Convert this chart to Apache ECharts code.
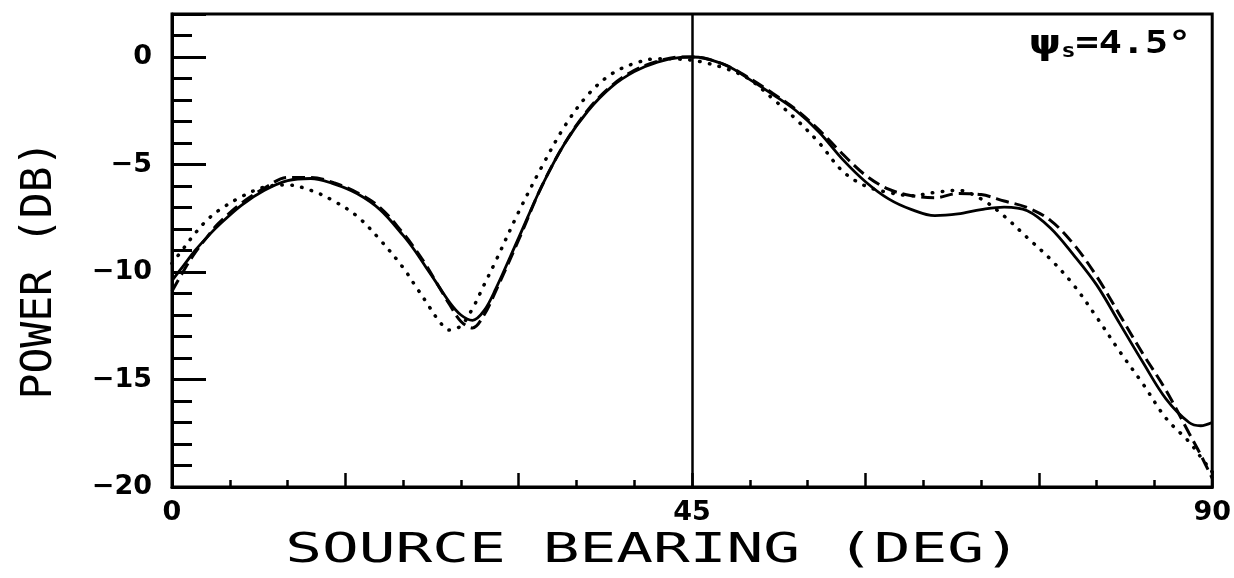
<!DOCTYPE html>
<html>
<head>
<meta charset="utf-8">
<script src="https://cdn.jsdelivr.net/npm/echarts@6/dist/echarts.min.js"></script>
<style>
  html, body { margin: 0; padding: 0; background: #fff; }
  #chart { width: 1234px; height: 578px; }
</style>
</head>
<body>
<div id="chart"></div>
<script>
// Source bearing (deg) shared by the three power curves
const bearing = [0,1,2,3,4,6,8,10,12,14,16,18,20,21,22,23,24,25,26,27,28,30,32,34,36,38,40,42,44,45,46,48,50,52,54,56,58,60,62,64,66,68,70,72,74,76,78,80,82,84,86,88,89,90];

// Beam power (dB), solid curve
const powerSolid = [-10.4,-9.7,-9.0,-8.4,-7.85,-6.9,-6.2,-5.75,-5.65,-5.9,-6.35,-7.1,-8.3,-9.0,-9.8,-10.6,-11.4,-12.0,-12.25,-11.8,-10.8,-8.4,-6.0,-4.0,-2.5,-1.4,-0.68,-0.24,-0.02,0,-0.05,-0.4,-1.05,-1.75,-2.5,-3.5,-4.75,-5.8,-6.6,-7.1,-7.38,-7.3,-7.1,-6.98,-7.15,-7.95,-9.2,-10.6,-12.4,-14.2,-15.9,-17.0,-17.15,-17.0];

// Beam power (dB), dashed curve
const powerDashed = [-10.9,-9.95,-9.1,-8.4,-7.75,-6.8,-6.1,-5.6,-5.6,-5.85,-6.3,-7.0,-8.2,-8.9,-9.7,-10.6,-11.5,-12.3,-12.6,-12.0,-10.9,-8.5,-6.0,-4.0,-2.45,-1.35,-0.62,-0.2,0,0,-0.05,-0.4,-1.0,-1.7,-2.45,-3.4,-4.5,-5.5,-6.15,-6.45,-6.55,-6.35,-6.4,-6.7,-7.0,-7.6,-8.7,-10.2,-12.0,-13.8,-15.5,-17.5,-18.5,-19.6];

// Beam power (dB), dotted curve
const powerDotted = [-9.6,-8.9,-8.2,-7.6,-7.15,-6.5,-6.05,-5.95,-6.2,-6.7,-7.4,-8.5,-9.8,-10.6,-11.4,-12.2,-12.7,-12.5,-11.7,-10.6,-9.5,-7.2,-5.1,-3.2,-1.75,-0.8,-0.3,-0.08,-0.1,-0.15,-0.25,-0.55,-1.05,-1.95,-2.9,-4.0,-5.3,-6.0,-6.3,-6.45,-6.3,-6.2,-6.6,-7.4,-8.4,-9.4,-10.6,-12.1,-13.7,-15.2,-16.8,-17.9,-18.6,-19.3];

// Axis labelling
const xTickLabels = [0, 45, 90];
const yTickLabels = [0, -5, -10, -15, -20];
const steerAngle = 45;

const pairs = (ys) => bearing.map((x, i) => [x, ys[i]]);

const chart = echarts.init(document.getElementById('chart'), null, { renderer: 'canvas' });

const labelFont = { fontFamily: '"DejaVu Sans"', fontWeight: 'bold', fontSize: 27, color: '#000' };

chart.setOption({
  animation: false,
  backgroundColor: '#fff',
  grid: { left: 172, right: 17, top: 14, bottom: 91, show: true, borderColor: '#000', borderWidth: 3, backgroundColor: 'transparent' },
  xAxis: [
    {
      type: 'value', min: 0, max: 90, interval: 5, position: 'bottom',
      axisLine: { show: true, onZero: false, lineStyle: { color: '#000', width: 3 } },
      axisTick: { show: true, inside: true, length: 7, lineStyle: { color: '#000', width: 2.5 } },
      axisLabel: Object.assign({ margin: 12, formatter: v => xTickLabels.includes(v) ? String(v) : '', showMinLabel: true, showMaxLabel: true }, labelFont),
      splitLine: { show: false }
    },
    {
      type: 'value', min: 0, max: 90, interval: 15, position: 'bottom',
      axisLine: { show: false, onZero: false },
      axisTick: { show: true, inside: true, length: 14, lineStyle: { color: '#000', width: 2.5 } },
      axisLabel: { show: false },
      splitLine: { show: false }
    }
  ],
  yAxis: [
    {
      type: 'value', min: -20, max: 2, interval: 1, position: 'left',
      axisLine: { show: true, onZero: false, lineStyle: { color: '#000', width: 3 } },
      axisTick: { show: true, inside: true, length: 20, lineStyle: { color: '#000', width: 3 } },
      axisLabel: Object.assign({ margin: 20, formatter: v => yTickLabels.includes(v) ? String(v).replace('-', '\u2212') : '' }, labelFont),
      splitLine: { show: false }
    },
    {
      type: 'value', min: -20, max: 2, interval: 5, position: 'left',
      axisLine: { show: false, onZero: false },
      axisTick: { show: true, inside: true, length: 34, lineStyle: { color: '#000', width: 3 } },
      axisLabel: { show: false },
      splitLine: { show: false }
    }
  ],
  series: [
    {
      name: 'dotted', type: 'line', data: pairs(powerDotted), smooth: 0.35, showSymbol: false,
      lineStyle: { color: '#000', width: 3.5, type: [0.5, 9.5], cap: 'round' }
    },
    {
      name: 'dashed', type: 'line', data: pairs(powerDashed), smooth: 0.35, showSymbol: false,
      lineStyle: { color: '#000', width: 3, type: [13, 6] }
    },
    {
      name: 'solid', type: 'line', data: pairs(powerSolid), smooth: 0.35, showSymbol: false,
      lineStyle: { color: '#000', width: 2.8 },
      markLine: {
        silent: true, symbol: 'none', label: { show: false },
        lineStyle: { color: '#000', width: 2.5, type: 'solid' },
        data: [{ xAxis: steerAngle }]
      }
    }
  ],
  graphic: [
    {
      type: 'text', x: 40, y: 270, rotation: Math.PI / 2,
      style: { text: 'POWER (DB)', font: '43px "DejaVu Sans Mono"', fill: '#000', align: 'center', verticalAlign: 'middle' }
    },
    {
      type: 'text', x: 653, y: 551, scaleX: 1.49,
      style: { text: 'SOURCE BEARING (DEG)', font: '41px "DejaVu Sans Mono"', fill: '#000', align: 'center', verticalAlign: 'middle' }
    },
    {
      type: 'text', x: 1110, y: 45, scaleX: 1.2,
      style: {
        text: '{p|\u03C8}{s|s}{t|=4.5\u00B0}', align: 'center', verticalAlign: 'middle',
        rich: {
          p: { font: 'bold 34px "DejaVu Sans"', fill: '#000', verticalAlign: 'middle' },
          s: { font: 'bold 20px "DejaVu Sans Mono"', fill: '#000', padding: [14, 0, 0, 0] },
          t: { font: 'bold 32px "DejaVu Sans Mono"', fill: '#000' }
        }
      }
    }
  ]
});
</script>
</body>
</html>
